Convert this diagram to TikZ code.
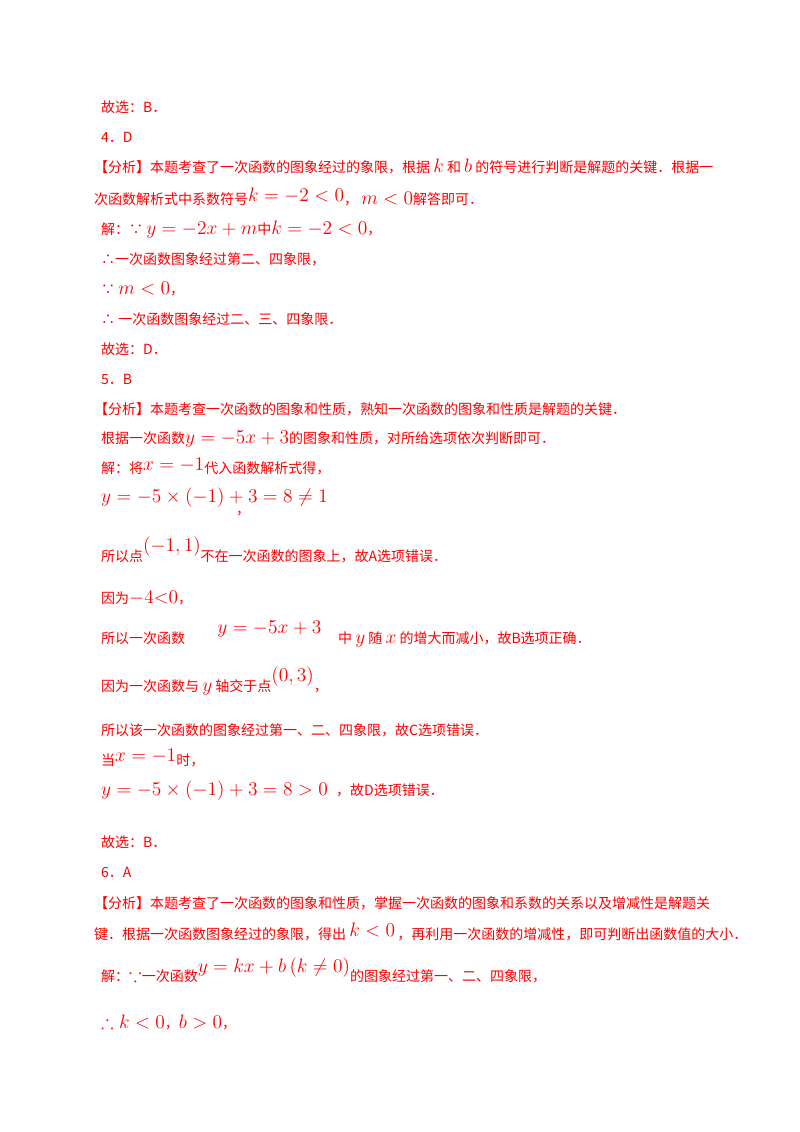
\documentclass[tikz,border=0pt]{standalone}
\usepackage{amssymb}
\usepackage[no-math]{fontspec}
\setmainfont{Noto Sans CJK SC}
\definecolor{rd}{RGB}{250,0,0}
\tikzset{ln/.style={anchor=base west,inner sep=0pt,text=rd,font=\fontsize{14pt}{16pt}\selectfont}}
\newcommand{\mt}[1]{\scalebox{1.35}{$#1$}}
\newcommand{\up}[2]{\raisebox{#1}{\mt{#2}}}
\begin{document}
\begin{tikzpicture}[x=1pt,y=1pt]
\useasboundingbox (0,0) rectangle (800,-1132);
\fill[white] (0,0) rectangle (800,-1132);
\node[ln] (l1) at (101,-112) {故选：B．};
\node[ln] (l2) at (101,-142) {4．D};
\node[ln] (l3) at (94,-172) {【分析】本题考查了一次函数的图象经过的象限，根据 \mt{k} 和 \mt{b} 的符号进行判断是解题的关键．根据一};
\node[ln] (l4) at (94,-204) {次函数解析式中系数符号\up{3pt}{k=-2<0}，\ \mt{m<0}解答即可．};
\node[ln] (l5) at (101,-234) {解：∵ \mt{y=-2x+m}中\mt{k=-2<0}，};
\node[ln] (l6) at (101,-264) {∴一次函数图象经过第二、四象限，};
\node[ln] (l7) at (101,-294) {∵ \mt{m<0}，};
\node[ln] (l8) at (101,-324) {∴ 一次函数图象经过二、三、四象限．};
\node[ln] (l9) at (101,-354) {故选：D．};
\node[ln] (l10) at (101,-384) {5．B};
\node[ln] (l11) at (94,-414) {【分析】本题考查一次函数的图象和性质，熟知一次函数的图象和性质是解题的关键．};
\node[ln] (l12) at (101,-443) {根据一次函数\mt{y=-5x+3}的图象和性质，对所给选项依次判断即可．};
\node[ln] (l13) at (101,-473) {解：将\up{3pt}{x=-1}代入函数解析式得，};
\node[ln] (l14) at (101,-502) {\mt{y=-5\times\left(-1\right)+3=8\neq 1}};
\node[ln] (l14b) at (236,-514) {，};
\node[ln] (l15) at (101,-561) {所以点\up{10pt}{\left(-1,1\right)}不在一次函数的图象上，故A选项错误．};
\node[ln] (l16) at (101,-603) {因为\mt{-4{<}0}，};
\node[ln] (l17) at (101,-643) {所以一次函数\hspace{2.3em}\up{10pt}{y=-5x+3}\hspace{1.2em}中 \mt{y} 随 \mt{x} 的增大而减小，故B选项正确．};
\node[ln] (l18) at (101,-691) {因为一次函数与 \mt{y} 轴交于点\up{10pt}{\left(0,3\right)}，};
\node[ln] (l19) at (101,-735) {所以该一次函数的图象经过第一、二、四象限，故C选项错误．};
\node[ln] (l20) at (101,-765) {当\up{4pt}{x=-1}时，};
\node[ln] (l21) at (101,-795) {\mt{y=-5\times\left(-1\right)+3=8>0}\hspace{0.6em}，故D选项错误．};
\node[ln] (l22) at (101,-847) {故选：B．};
\node[ln] (l23) at (101,-877) {6．A};
\node[ln] (l24) at (94,-908) {【分析】本题考查了一次函数的图象和性质，掌握一次函数的图象和系数的关系以及增减性是解题关};
\node[ln] (l25) at (94,-939) {键．根据一次函数图象经过的象限，得出\up{3pt}{\,k<0}\,，再利用一次函数的增减性，即可判断出函数值的大小．};
\node[ln] (l26) at (101,-981) {解：\mt{\because}一次函数\up{9pt}{y=kx+b\left(k\neq 0\right)}的图象经过第一、二、四象限，};
\node[ln] (l27) at (101,-1028) {\mt{\therefore k<0}，\mt{b>0}，};
\end{tikzpicture}
\end{document}
